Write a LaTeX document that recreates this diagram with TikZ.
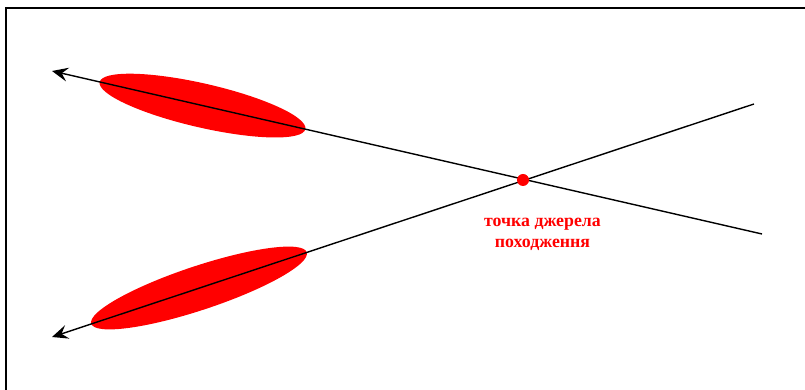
\documentclass[tikz,border=0pt]{standalone}
\usepackage{fontspec}
\setmainfont{Liberation Serif}
\usepackage{xcolor}
\definecolor{srcred}{RGB}{255, 0, 0}
\usepackage{tikz}
\usetikzlibrary{shapes.geometric,arrows.meta,calc}

\begin{document}
\begin{tikzpicture}[
  x=1pt, y=1pt,
  ray/.style={line width=1.4pt, black},
  tipray/.style={ray, -{Stealth[length=16pt, width=14pt, inset=6pt]}},
  blob/.style={ellipse, fill=srcred, draw=none, inner sep=0pt},
  frame/.style={line width=2pt, black},
  lbl/.style={font=\fontsize{17.8}{21}\selectfont\bfseries, text=srcred, align=center}
]
\useasboundingbox (0,0) rectangle (805,390);
% frame
\coordinate (fbl) at (5.5,0);
\coordinate (ftl) at (5.5,381.5);
\coordinate (ftr) at (805,381.5);
\draw[frame] (fbl) -- (ftl) -- (ftr);
% rays
\coordinate (up0) at (52,319);
\coordinate (up1) at (762,156);
\coordinate (lo0) at (52,53);
\coordinate (lo1) at (754,286);
\coordinate (src) at (523,210);
\node[blob, minimum width=211pt, minimum height=44pt, rotate=-12.93] (blobup) at (202.5,284.4) {};
\node[blob, minimum width=227pt, minimum height=44pt, rotate=18.36] (bloblo) at (199,102) {};
\draw[tipray] (up1) -- (up0);
\draw[tipray] (lo1) -- (lo0);
\fill[srcred] (src) circle (6pt);
\node[lbl] (srclbl) at (542.5,156) {точка джерела\\походження};
\end{tikzpicture}
\end{document}
